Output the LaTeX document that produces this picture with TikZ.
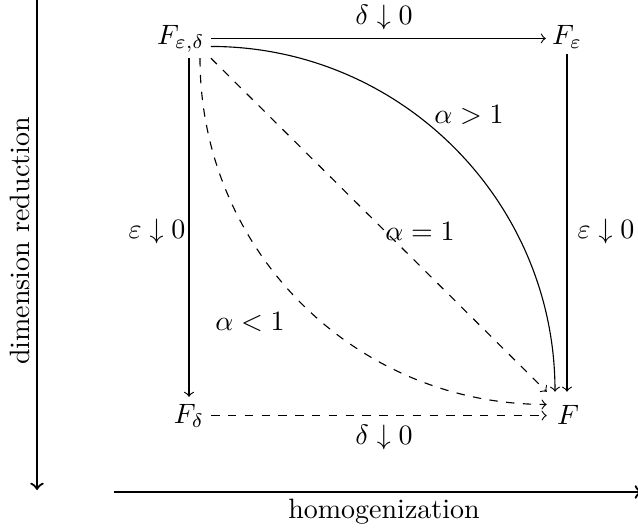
\documentclass[tikz,border=0pt]{standalone}
\usepackage{amsmath,amssymb}
\usetikzlibrary{calc}
\begin{document}
\begin{tikzpicture}[x=0.3571pt,y=-0.3571pt,
  obj/.style={inner sep=2pt},
  arr/.style={->,>=to},
  darr/.style={->,>=to,dashed},
  axis/.style={->,>=to,thick},
  lab/.style={inner sep=0pt}]
\useasboundingbox (0,0) rectangle (638,528);
% objects
\node[obj,anchor=base] (Fed) at (181,44) {$F_{\varepsilon,\delta}$};
\node[obj,anchor=base] (Fe) at (567,44) {$F_{\varepsilon}$};
\node[obj,inner sep=2.3pt,anchor=base] (Fd) at (189,423) {$F_{\delta}$};
\node[inner xsep=3.5pt,inner ysep=4.5pt,anchor=base] (F) at (568,424) {$F$};
% arrows
\draw[arr] (Fed.east) -- (Fed.east -| Fe.west);
\draw[arr] (Fe.south) -- (Fe.south |- F.north);
\draw[arr] (Fd.north |- Fed.south) -- (Fd.north);
\draw[darr] (Fd.east) -- (Fd.east -| F.west);
\draw[arr] ($(Fed.east)+(0,8)$) to[out=0,in=90] ($(F.north)+(-13,0)$);
\draw[darr] (Fed.south east) -- (F.north west);
\draw[darr] ($(Fed.south)+(19,0)$) to[out=-90,in=180] ($(F.west)+(0,-10)$);
% labels
\node[lab] (l1) at (384,17) {$\delta\downarrow 0$};
\node[lab] (l2) at (384,437) {$\delta\downarrow 0$};
\node[lab] (l3) at (157,231) {$\varepsilon\downarrow 0$};
\node[lab] (l4) at (606,231) {$\varepsilon\downarrow 0$};
\node[lab] (l5) at (469,115) {$\alpha>1$};
\node[lab] (l6) at (420,231) {$\alpha=1$};
\node[lab] (l7) at (250,322) {$\alpha<1$};
% axes
\coordinate (vtop) at (37,-5);
\coordinate (vbot) at (37,490);
\coordinate (hleft) at (114,492);
\coordinate (hright) at (642,492);
\draw[axis] (vtop) -- (vbot);
\draw[axis] (hleft) -- (hright);
\node[rotate=90,lab] (dimlab) at (20,241) {dimension reduction};
\node[lab] (homlab) at (384,512) {homogenization};
\end{tikzpicture}
\end{document}
